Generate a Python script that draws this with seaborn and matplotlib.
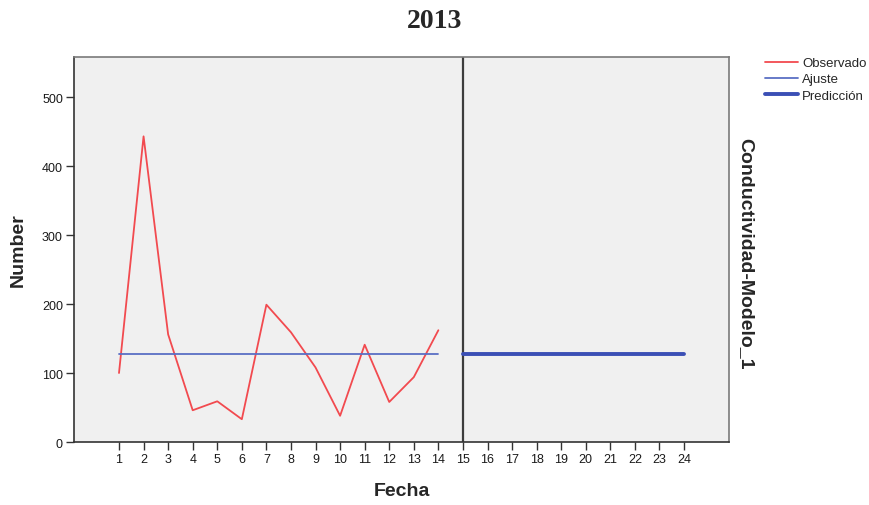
import pandas as pd
import numpy as np
import matplotlib.pyplot as plt
import seaborn as sns

# values
fecha_obs = list(range(1, 15))
observado = [100, 443, 156, 46, 59, 33, 199, 159, 108, 38, 141, 58, 94, 162]
ajuste = [128] * 14
fecha_pred = list(range(15, 25))
prediccion = [128] * 10
x_ticks = list(range(1, 25))
y_ticks = [0, 100, 200, 300, 400, 500]

obs_df = pd.DataFrame({'Fecha': fecha_obs, 'Observado': observado, 'Ajuste': ajuste})
pred_df = pd.DataFrame({'Fecha': fecha_pred, 'Prediccion': prediccion})

sns.set_style('ticks')
plt.rcParams['font.family'] = ['Liberation Sans', 'DejaVu Sans']

fig = plt.figure(figsize=(8.69, 5.06), dpi=100)
ax = fig.add_axes([0.0852, 0.1245, 0.7537, 0.7609])
ax.set_facecolor('#f0f0f0')

sns.lineplot(data=obs_df, x='Fecha', y='Observado', ax=ax, color='#f24a4f', lw=1.3, label='Observado')
sns.lineplot(data=obs_df, x='Fecha', y='Ajuste', ax=ax, color='#5a6fc4', lw=1.3, label='Ajuste')
sns.lineplot(data=pred_df, x='Fecha', y='Prediccion', ax=ax, color='#3b4fb5', lw=2.8, label='Predicción')

ax.axvline(15, color='#3c3c3c', lw=1.6, zorder=1)

ax.set_xlim(-0.83, 25.83)
ax.set_ylim(0, 558)
ax.set_xticks(x_ticks)
ax.set_xticklabels([str(t) for t in x_ticks], fontsize=9)
ax.set_yticks(y_ticks)
ax.set_yticklabels([str(t) for t in y_ticks], fontsize=9)
ax.tick_params(direction='out', length=6, width=1, color='#333333', labelcolor='#1a1a1a', pad=2)

for s in ['left', 'bottom']:
    ax.spines[s].set_color('#333333')
    ax.spines[s].set_linewidth(1.2)
for s in ['top', 'right']:
    ax.spines[s].set_visible(True)
    ax.spines[s].set_color('#7a7a7a')
    ax.spines[s].set_linewidth(1.2)

ax.set_xlabel('Fecha', fontsize=14, fontweight='bold')
ax.set_ylabel('Number', fontsize=14, fontweight='bold')
ax.xaxis.set_label_coords(0.5, -0.104)
ax.yaxis.set_label_coords(-0.072, 0.5)

fig.text(0.5, 0.957, '2013', ha='center', va='center', fontsize=20,
         fontweight='bold', family='Liberation Serif')
fig.text(0.858, 0.499, 'Conductividad-Modelo_1', rotation=-90, ha='center', va='center',
         fontsize=14, fontweight='bold')

leg = ax.legend(loc='upper left', bbox_to_anchor=(1.055, 1.0), frameon=False,
                fontsize=9.5, handlelength=2.5, handletextpad=0.3, labelspacing=0.3,
                borderaxespad=0, borderpad=0)

fig.savefig('out.png', dpi=100)
